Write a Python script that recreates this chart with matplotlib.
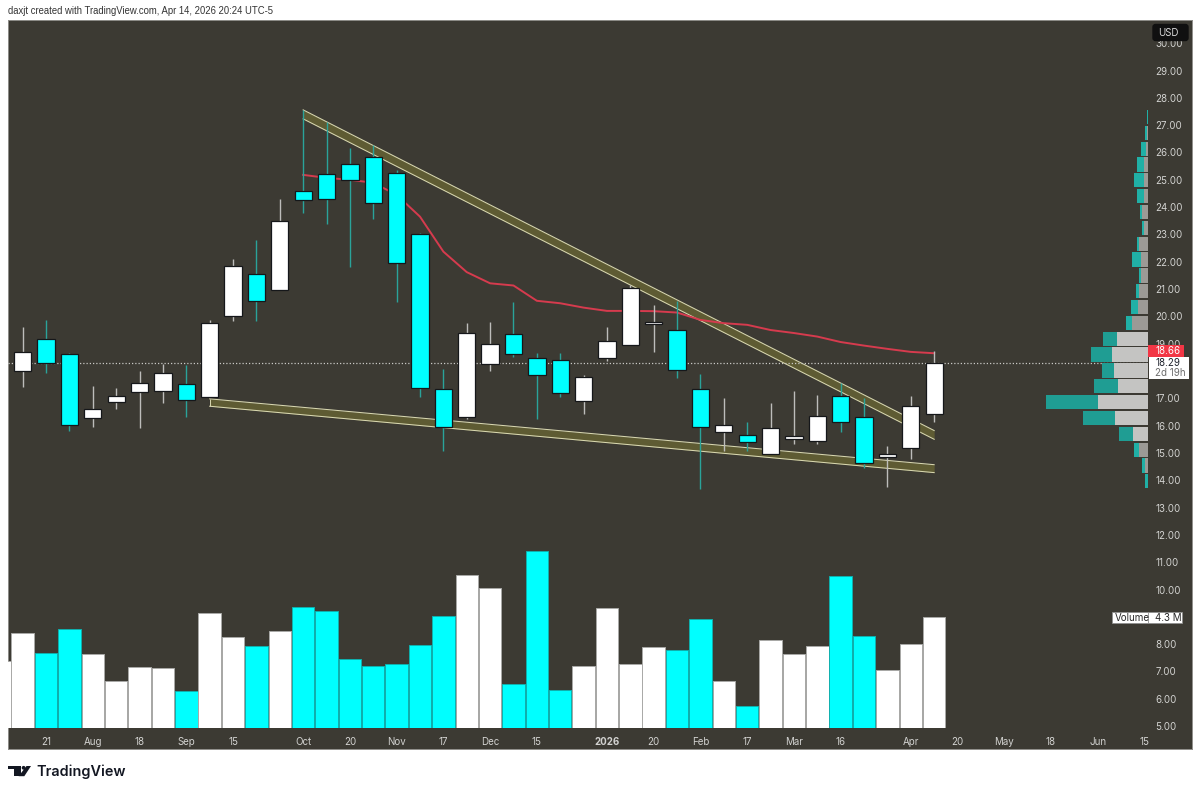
import matplotlib as mpl
mpl.use('Agg')
import matplotlib.pyplot as plt
from matplotlib.patches import Rectangle, FancyBboxPatch, Polygon, Circle
import numpy as np

opens = [17.99, 19.18, 18.61, 16.28, 16.86, 17.23, 17.27, 17.52, 17.06, 20.02,
         21.54, 20.97, 24.60, 25.23, 25.56, 25.84, 25.24, 23.02, 17.35, 16.31,
         18.26, 19.37, 18.49, 18.39, 16.91, 18.49, 18.94, 19.71, 19.50, 17.34,
         15.78, 15.65, 14.95, 15.51, 15.43, 17.09, 16.33, 14.85, 15.19, 16.43]
highs = [19.62, 19.87, 18.65, 17.45, 17.39, 18.01, 18.25, 18.22, 19.87, 22.11,
         22.80, 24.31, 27.56, 27.13, 26.18, 26.28, 25.36, 23.05, 18.08, 19.75,
         19.80, 20.53, 18.65, 18.65, 17.86, 19.62, 21.15, 20.42, 20.58, 17.88,
         17.02, 16.15, 16.82, 17.28, 17.12, 17.55, 17.00, 15.27, 17.09, 18.73]
lows = [17.43, 17.92, 15.82, 15.96, 16.60, 15.90, 16.84, 16.31, 17.05, 19.82,
        19.82, 20.97, 23.80, 23.38, 21.82, 23.56, 20.52, 17.04, 15.08, 16.23,
        18.00, 18.50, 16.26, 17.06, 16.42, 18.36, 18.94, 18.71, 17.73, 13.67,
        15.08, 15.08, 14.95, 15.33, 15.33, 15.78, 14.44, 13.74, 14.78, 16.15]
closes = [18.71, 18.31, 16.02, 16.60, 17.10, 17.57, 17.92, 16.94, 19.77, 21.85,
          20.58, 23.49, 24.26, 24.28, 25.00, 24.16, 21.95, 17.39, 15.96, 19.40,
          18.99, 18.61, 17.86, 17.19, 17.79, 19.10, 21.03, 19.81, 18.04, 15.94,
          16.02, 15.39, 15.91, 15.61, 16.35, 16.13, 14.62, 14.97, 16.71, 18.29]

# first volume is the bar cut off at the left edge, candle not visible
volumes = [2.59, 3.70, 2.93, 3.85, 2.87, 1.83, 2.38, 2.33, 1.45, 4.47, 3.55,
           3.20, 3.77, 4.70, 4.55, 2.68, 2.40, 2.50, 3.22, 4.35, 5.93,
           5.44, 1.70, 6.86, 1.49, 2.42, 4.66, 2.49, 3.15, 3.02, 4.23,
           1.84, 0.84, 3.43, 2.89, 3.20, 5.89, 3.56, 2.25, 3.28, 4.30]

# red moving average, starts at candle 12
ma_start = 12
ma_values = [25.18, 25.07, 25.00, 24.89, 24.45, 23.65, 22.37, 21.62, 21.21, 21.13,
             20.57, 20.48, 20.32, 20.20, 20.20, 20.19, 20.14, 19.87, 19.75, 19.69,
             19.50, 19.39, 19.26, 19.06, 18.93, 18.81, 18.70, 18.65]

# trend channels
upper_x = [12, 39]
upper_a = [27.56, 15.82]
upper_b = [27.23, 15.50]
lower_x = [8, 39]
lower_a = [16.98, 14.57]
lower_b = [16.71, 14.28]

# volume profile rows, bottom to top
vp_low = 13.67
vp_step = 0.58
vp_up = [0.5, 3.3, 9, 15, 32.7, 50.3, 29.7, 33.7, 35.7, 31.3, 16.3, 10.3,
         8.7, 7, 7.3, 8.7, 4.3, 5.7, 4, 4.3, 3.7, 2.3, 1, 0.3]
vp_down = [2.5, 3, 5.3, 14, 32.3, 51.3, 24.3, 12.3, 21, 14, 5.7, 6.7,
           3.7, 2.3, 9, 2.3, 1.3, 2.3, 7.3, 10, 7.3, 4.3, 2.3, 1]
value_area = [3, 4, 5, 6, 7, 8, 9]

# 9 and 18 sit under the Volume and last price labels
price_ticks = [5, 6, 7, 8, 10, 11, 12, 13, 14, 15, 16, 17, 19, 20, 21, 22, 23, 24, 25, 26, 27, 28, 29, 30]
time_pos = [1, 3, 5, 7, 9, 12, 14, 16, 18, 20, 22, 25, 27, 29, 31, 33, 35, 38, 40, 42, 44, 46, 48]
time_labels = ['21', 'Aug', '18', 'Sep', '15', 'Oct', '20', 'Nov', '17', 'Dec', '15', '2026', '20',
               'Feb', '17', 'Mar', '16', 'Apr', '20', 'May', '18', 'Jun', '15']
last_price = 18.29
ma_last = 18.66

W, H = 1200, 794
BG = '#3c3a33'
CYAN = '#00ffff'
WHITE = '#ffffff'
TEAL = '#2aa39a'
WICK_W = '#bdbdbb'
AXTXT = '#d2d2d0'
FONT = 'Liberation Sans'
AXFONT = 'Inter'
AXSIZE = 7.0


def box(x0, y0, x1, y1):
    return [x0 / W, 1 - y1 / H, (x1 - x0) / W, (y1 - y0) / H]


fig = plt.figure(figsize=(W / 100, H / 100), dpi=100, facecolor='white')
plt.rcParams['font.family'] = FONT

# chart frame behind everything
bg = fig.add_axes(box(8, 20, 1192, 749), facecolor=BG, zorder=-1)
bg.set_xticks([])
bg.set_yticks([])
for s in bg.spines.values():
    s.set_color('#8f8e8a')
    s.set_linewidth(0.7)

ax = fig.add_axes(box(8, 20, 1148, 728), zorder=2)
ax.patch.set_alpha(0)
for s in ax.spines.values():
    s.set_visible(False)

x = np.arange(len(closes))
colors = [WHITE if c >= o else CYAN for o, c in zip(opens, closes)]
wick_colors = [WICK_W if c >= o else TEAL for o, c in zip(opens, closes)]
edge = '#15171a'

# channels
band = '#5e5b33'
band_line = '#d8d7b0'
ax.fill_between(upper_x, upper_a, upper_b, color=band, lw=0, zorder=1)
ax.plot(upper_x, upper_a, color=band_line, lw=0.75, zorder=1.2)
ax.plot(upper_x, upper_b, color=band_line, lw=0.75, zorder=1.2)
ax.vlines(upper_x[0], upper_b[0], upper_a[0], color=band_line, lw=0.7, zorder=1.2)
ax.fill_between(lower_x, lower_a, lower_b, color=band, lw=0, zorder=1)
ax.plot(lower_x, lower_a, color=band_line, lw=0.75, zorder=1.2)
ax.plot(lower_x, lower_b, color=band_line, lw=0.75, zorder=1.2)
ax.vlines(lower_x[0], lower_b[0], lower_a[0], color=band_line, lw=0.7, zorder=1.2)

ax.axhline(last_price, color='#c9c9c6', lw=0.9, ls=(0, (1, 1.6)), zorder=1.5)
ax.plot(np.arange(ma_start, ma_start + len(ma_values)), ma_values, color='#d63b4e', lw=1.4, zorder=2)

ax.vlines(x, lows, highs, colors=wick_colors, lw=1.0, zorder=3)
ax.bar(x, np.array(closes) - np.array(opens), bottom=opens, width=0.74, color=colors,
       edgecolor=edge, linewidth=0.9, zorder=4)

# volume pane, same pixels as the price pane
axv = ax.twinx()
axv.set_zorder(1)
axv.patch.set_alpha(0)
axv.bar(np.arange(-1, len(closes)), volumes, width=0.96,
        color=[WHITE] + colors,
        edgecolor=['#a9a9a7'] + ['#a9a9a7' if c == WHITE else '#0fb0ae' for c in colors],
        linewidth=0.7)
axv.set_ylim(0, 27.5)
axv.set_yticks([])
for s in axv.spines.values():
    s.set_visible(False)

# volume profile hanging off the right side of the pane
axp = ax.twiny()
axp.set_zorder(3)
axp.patch.set_alpha(0)
rows = [vp_low + vp_step * (i + 0.5) for i in range(len(vp_up))]
up_colors = ['#c4c4c2' if i in value_area else '#9c9a96' for i in range(len(vp_up))]
down_colors = ['#1f9d93' if i in value_area else '#20b0a6' for i in range(len(vp_up))]
axp.barh(rows, vp_up, height=vp_step * 0.9, color=up_colors, lw=0)
axp.barh(rows, vp_down, left=vp_up, height=vp_step * 0.9, color=down_colors, lw=0)
axp.set_xlim(1140, 0)
axp.set_xticks([])
for s in axp.spines.values():
    s.set_visible(False)

# twinx moves the ticks to the left, so set the axis up after it
ax.set_xlim(-0.629, 48.15)
ax.set_ylim(4.93, 30.85)
ax.yaxis.tick_right()
ax.set_yticks(price_ticks)
ax.set_yticklabels(['%.2f' % p for p in price_ticks], color=AXTXT, fontsize=AXSIZE, fontname=AXFONT)
ax.set_xticks(time_pos)
ax.set_xticklabels(time_labels, color=AXTXT, fontsize=AXSIZE, fontname=AXFONT)
ax.get_xticklabels()[time_labels.index('2026')].set_fontweight('bold')
ax.tick_params(axis='both', length=0)
ax.tick_params(axis='y', pad=5.2)
ax.tick_params(axis='x', pad=6.5)

# overlay in pixels: labels on the price scale, footer
ov = fig.add_axes([0, 0, 1, 1], zorder=5)
ov.set_xlim(0, W)
ov.set_ylim(H, 0)
ov.axis('off')
ov.patch.set_alpha(0)

ov.add_patch(Rectangle((1149, 730), 12, 17, color=BG, lw=0))
ov.add_patch(Rectangle((1148.3, 345), 35.4, 11.7, color='#f23645', lw=0))
ov.text(1155, 351, '%.2f' % ma_last, color='white', fontsize=AXSIZE, fontname=AXFONT, va='center', ha='left')
ov.add_patch(Rectangle((1149, 357.3), 39.7, 22, color='white', lw=0))
ov.text(1155, 363.5, '%.2f' % last_price, color='#1e222d', fontsize=AXSIZE, fontname=AXFONT, va='center', ha='left')
ov.text(1155, 373.5, '2d 19h', color='#6d6d6d', fontsize=AXSIZE, fontname=AXFONT, va='center', ha='left')

ov.add_patch(FancyBboxPatch((1153, 24.5), 35, 16, boxstyle='round,pad=0,rounding_size=2.5',
                            fc='#101010', ec='#101010', lw=1))
ov.text(1158, 32.5, 'USD', color='#d8d8d8', fontsize=AXSIZE, fontname=AXFONT, va='center', ha='left')

ov.add_patch(Rectangle((1111.7, 611.7), 70, 11.6, fc='white', ec='#8f8f8f', lw=0.6))
ov.plot([1148.3, 1148.3], [611.7, 623.3], color='#8f8f8f', lw=0.6)
ov.text(1115, 617.7, 'Volume', color='#2a2a2a', fontsize=AXSIZE, fontname=AXFONT, va='center', ha='left')
ov.text(1155, 617.7, '4.3 M', color='#2a2a2a', fontsize=AXSIZE, fontname=AXFONT, va='center', ha='left')

ov.text(8, 11.5, 'daxjt created with TradingView.com, Apr 14, 2026 20:24 UTC-5', color='#333333',
        fontsize=6.85, va='center', ha='left')

# TradingView logo
ink = '#131722'
ov.add_patch(Polygon([(8.3, 766), (20.7, 766), (20.7, 776.2), (14, 776.2), (14, 769.4), (8.3, 769.4)], color=ink, lw=0))
ov.add_patch(Circle((23.6, 767.8), 1.9, color=ink, lw=0))
ov.add_patch(Polygon([(26.5, 766), (31, 766), (24.3, 776.2), (18.6, 776.2)], color=ink, lw=0))
ov.text(36.5, 771.5, 'TradingView', color=ink, fontsize=10.4, fontname='Inter', fontweight='semibold',
        va='center', ha='left')

fig.savefig('out.png', dpi=100, facecolor='white')
